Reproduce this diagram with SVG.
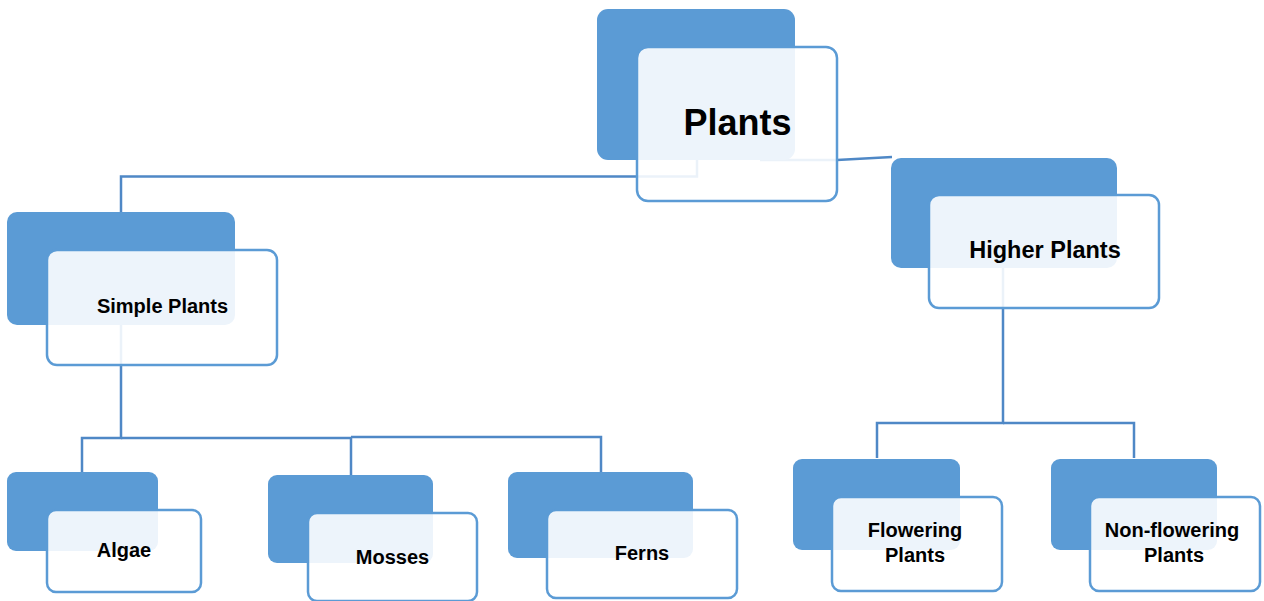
<svg xmlns="http://www.w3.org/2000/svg" width="1264" height="601" viewBox="0 0 1264 601">
<style>
.dark{fill:#5B9BD5;}
.light{fill:#FFFFFF;fill-opacity:0.89;stroke:#5B9BD5;stroke-width:2.5;}
.conn{fill:none;stroke:#4F88C6;stroke-width:2.5;}
text{font-family:"Liberation Sans",Arial,sans-serif;font-weight:bold;fill:#000;text-anchor:middle;}
.t20{font-size:20px;}
</style>
<rect width="1264" height="601" fill="#FFFFFF"/>
<g id="connectors">
<path class="conn" d="M121,212 V176.5 H697 V160"/>
<path class="conn" d="M760,160 L837,160 L892,157"/>
<path class="conn" d="M121,300 V438 H82 V472"/>
<path class="conn" d="M121,438 H351 V475"/>
<path class="conn" d="M351,437 H601 V472"/>
<path class="conn" d="M1003,260 V423 H877 V458"/>
<path class="conn" d="M1003,423 H1134 V458"/>
</g>
<g id="node-plants">
<rect class="dark" x="597" y="9" width="198" height="151" rx="11"/>
<rect class="light" x="637" y="47" width="200" height="154" rx="11"/>
<text x="737.5" y="135" style="font-size:36px">Plants</text>
</g>
<g id="node-simple">
<rect class="dark" x="7" y="212" width="228" height="113" rx="10"/>
<rect class="light" x="47" y="250" width="230" height="115" rx="10"/>
<text class="t20" x="162.5" y="313">Simple Plants</text>
</g>
<g id="node-higher">
<rect class="dark" x="891" y="158" width="226" height="110" rx="10"/>
<rect class="light" x="929" y="195" width="230" height="113" rx="10"/>
<text x="1045" y="258" style="font-size:23.5px">Higher Plants</text>
</g>
<g id="node-algae">
<rect class="dark" x="7" y="472" width="151" height="79" rx="9"/>
<rect class="light" x="47" y="510" width="154" height="82" rx="9"/>
<text class="t20" x="124" y="557">Algae</text>
</g>
<g id="node-mosses">
<rect class="dark" x="268" y="475" width="165" height="88" rx="9"/>
<rect class="light" x="308" y="513" width="169" height="88" rx="9"/>
<text class="t20" x="392.5" y="564">Mosses</text>
</g>
<g id="node-ferns">
<rect class="dark" x="508" y="472" width="185" height="86" rx="9"/>
<rect class="light" x="547" y="510" width="190" height="88" rx="9"/>
<text class="t20" x="642" y="560">Ferns</text>
</g>
<g id="node-flowering">
<rect class="dark" x="793" y="459" width="167" height="91" rx="9"/>
<rect class="light" x="832" y="497" width="170" height="94" rx="9"/>
<text class="t20" x="915" y="537">Flowering</text>
<text class="t20" x="915" y="562">Plants</text>
</g>
<g id="node-nonflowering">
<rect class="dark" x="1051" y="459" width="166" height="91" rx="9"/>
<rect class="light" x="1090" y="497" width="170" height="94" rx="9"/>
<text class="t20" x="1172" y="537">Non-flowering</text>
<text class="t20" x="1174" y="562">Plants</text>
</g>
</svg>
